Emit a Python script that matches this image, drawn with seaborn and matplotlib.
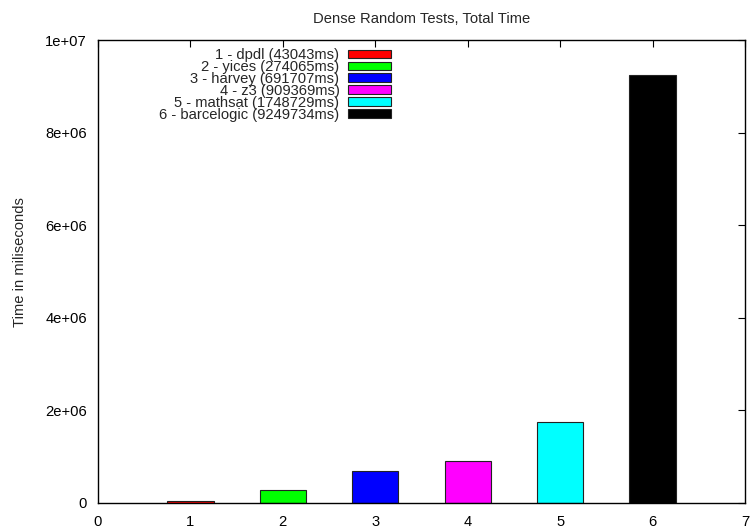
import matplotlib
matplotlib.use("Agg")
import matplotlib.pyplot as plt
import seaborn as sns
import pandas as pd
from matplotlib.patches import Patch

positions = [1, 2, 3, 4, 5, 6]
solvers = ["dpdl", "yices", "harvey", "z3", "mathsat", "barcelogic"]
times_ms = [43043, 274065, 691707, 909369, 1748729, 9249734]
colors = ["#ff0000", "#00ff00", "#0000ff", "#ff00ff", "#00ffff", "#000000"]
ytick_vals = [0, 2e6, 4e6, 6e6, 8e6, 1e7]
ytick_labels = ["0", "2e+06", "4e+06", "6e+06", "8e+06", "1e+07"]
xtick_vals = [0, 1, 2, 3, 4, 5, 6, 7]

FS = 10.6

sns.set_theme(style="white")
plt.rcParams["font.family"] = ["Liberation Sans", "DejaVu Sans"]

df = pd.DataFrame({"pos": positions, "time": times_ms, "solver": solvers})

fig = plt.figure(figsize=(7.5, 5.28), dpi=100)
ax = fig.add_axes([98/750, 1-503/528, (745-98)/750, (503-40)/528])

sns.barplot(data=df, x="pos", y="time", hue="pos", palette=colors,
            native_scale=True, width=0.5, legend=False, ax=ax,
            edgecolor="#222222", linewidth=0.8, saturation=1)

ax.set_xlim(0, 7)
ax.set_ylim(0, 1e7)
ax.set_xticks(xtick_vals)
ax.set_xticklabels([str(v) for v in xtick_vals])
ax.set_yticks(ytick_vals)
ax.set_yticklabels(ytick_labels)
ax.set_xlabel("")
ax.set_ylabel("Time in miliseconds", fontsize=FS)
ax.yaxis.set_label_coords((27-98)/647, (503-262)/463)
ax.set_title("Dense Random Tests, Total Time", fontsize=FS, pad=12)

ax.tick_params(direction="in", length=5, width=0.8, top=True, right=True,
               labelsize=FS, colors="black")
ax.tick_params(axis="y", pad=8)
ax.tick_params(axis="x", pad=9)
for s in ax.spines.values():
    s.set_visible(True)
    s.set_color("black")
    s.set_linewidth(1.0)

handles = [Patch(facecolor=c, edgecolor="#222222", linewidth=0.8) for c in colors]
labels = [f"{p} - {n} ({t}ms)" for p, n, t in zip(positions, solvers, times_ms)]
fig.legend(handles, labels, loc="upper right", bbox_to_anchor=(391/750, 1-48/528),
           bbox_transform=fig.transFigure, frameon=False, markerfirst=False,
           fontsize=FS, handlelength=2.9, handleheight=0.5, labelspacing=-0.14,
           handletextpad=0.6, borderpad=0, borderaxespad=0)

fig.savefig("out.png", dpi=100)
